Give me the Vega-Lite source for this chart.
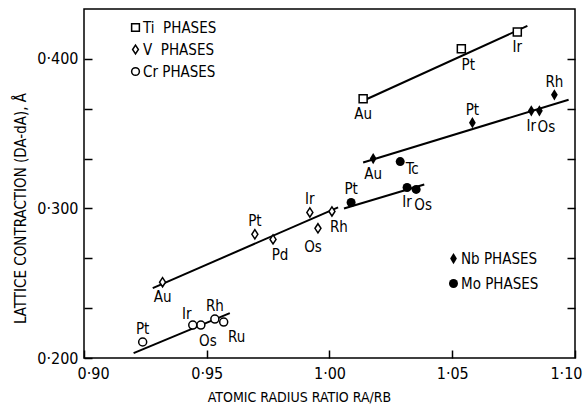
{
  "$schema": "https://vega.github.io/schema/vega-lite/v6.json",
  "width": 491,
  "height": 349,
  "autosize": "none",
  "padding": {"left": 84, "top": 9, "right": 11, "bottom": 54},
  "background": "white",
  "config": {
    "view": {"stroke": "black", "strokeWidth": 1.5},
    "font": "Liberation Sans Narrow, DejaVu Sans Condensed, sans-serif",
    "axis": {
      "grid": false, "domain": false, "tickColor": "black", "tickWidth": 1.5,
      "labelColor": "black", "titleColor": "black", "labelFontSize": 16,
      "titleFontSize": 15, "titleFontWeight": "normal",
      "labelFont": "Liberation Sans Narrow, DejaVu Sans Condensed, sans-serif",
      "titleFont": "Liberation Sans Narrow, DejaVu Sans Condensed, sans-serif"
    },
    "legend": {
      "padding": 0, "labelFontSize": 15, "labelColor": "black", "labelOffset": 0,
      "labelFont": "Liberation Sans Narrow, DejaVu Sans Condensed, sans-serif"
    },
    "text": {"fontSize": 15, "color": "black", "font": "Liberation Sans Narrow, DejaVu Sans Condensed, sans-serif", "baseline": "middle", "align": "center"}
  },
  "datasets": {
    "points": [
      {"phase": "Ti", "el": "Au", "x": 1.0137, "y": 0.3733, "pos": "b"},
      {"phase": "Ti", "el": "Pt", "x": 1.0537, "y": 0.4067, "pos": "br"},
      {"phase": "Ti", "el": "Ir", "x": 1.0765, "y": 0.418, "pos": "b"},
      {"phase": "Nb", "el": "Au", "x": 1.0178, "y": 0.3333, "pos": "b"},
      {"phase": "Nb", "el": "Pt", "x": 1.0582, "y": 0.3573, "pos": "a"},
      {"phase": "Nb", "el": "Ir", "x": 1.0822, "y": 0.3653, "pos": "b"},
      {"phase": "Nb", "el": "Os", "x": 1.0855, "y": 0.3653, "pos": "br"},
      {"phase": "Nb", "el": "Rh", "x": 1.0916, "y": 0.376, "pos": "a"},
      {"phase": "Mo", "el": "Tc", "x": 1.0288, "y": 0.3313, "pos": "r"},
      {"phase": "Mo", "el": "Pt", "x": 1.0088, "y": 0.304, "pos": "a"},
      {"phase": "Mo", "el": "Ir", "x": 1.0316, "y": 0.314, "pos": "b"},
      {"phase": "Mo", "el": "Os", "x": 1.0353, "y": 0.3127, "pos": "br"},
      {"phase": "V", "el": "Au", "x": 0.932, "y": 0.2507, "pos": "b"},
      {"phase": "V", "el": "Pt", "x": 0.9696, "y": 0.2827, "pos": "a"},
      {"phase": "V", "el": "Pd", "x": 0.977, "y": 0.2793, "pos": "br"},
      {"phase": "V", "el": "Ir", "x": 0.992, "y": 0.2973, "pos": "a"},
      {"phase": "V", "el": "Os", "x": 0.9953, "y": 0.2867, "pos": "bl"},
      {"phase": "V", "el": "Rh", "x": 1.001, "y": 0.298, "pos": "br"},
      {"phase": "Cr", "el": "Pt", "x": 0.9239, "y": 0.2107, "pos": "a"},
      {"phase": "Cr", "el": "Ir", "x": 0.9443, "y": 0.222, "pos": "al"},
      {"phase": "Cr", "el": "Os", "x": 0.9476, "y": 0.222, "pos": "br"},
      {"phase": "Cr", "el": "Rh", "x": 0.9533, "y": 0.226, "pos": "a"},
      {"phase": "Cr", "el": "Ru", "x": 0.9569, "y": 0.224, "pos": "rb"}
    ],
    "fits": [
      {"series": "Ti", "x": 1.0137, "y": 0.372},
      {"series": "Ti", "x": 1.0806, "y": 0.422},
      {"series": "Nb", "x": 1.0137, "y": 0.3307},
      {"series": "Nb", "x": 1.0974, "y": 0.3727},
      {"series": "Mo", "x": 1.0059, "y": 0.300},
      {"series": "Mo", "x": 1.0386, "y": 0.316},
      {"series": "V", "x": 0.928, "y": 0.2467},
      {"series": "V", "x": 1.0035, "y": 0.3007},
      {"series": "Cr", "x": 0.9202, "y": 0.2033},
      {"series": "Cr", "x": 0.9594, "y": 0.230}
    ]
  },
  "layer": [
    {
      "data": {"name": "fits"},
      "mark": {"type": "line", "color": "black", "strokeWidth": 2},
      "encoding": {
        "x": {"field": "x", "type": "quantitative", "scale": {"domain": [0.9, 1.1], "nice": false, "zero": false},
          "axis": {"orient": "bottom", "values": [0.9, 0.95, 1.0, 1.05, 1.1],
            "labelExpr": "replace(format(datum.value,'.2f'),'.','·')",
            "tickSize": -8, "labelPadding": 15, "labelFlush": true, "labelFlushOffset": 7,
            "title": "ATOMIC RADIUS RATIO  RA/RB", "titleX": 215, "titleY": 39,
            "titleBaseline": "middle", "titleAlign": "center", "titleFontSize": 14}},
        "y": {"field": "y", "type": "quantitative", "scale": {"domain": [0.2, 0.43333], "nice": false, "zero": false},
          "axis": {"orient": "left", "values": [0.2, 0.23333, 0.26667, 0.3, 0.33333, 0.36667, 0.4],
            "labelExpr": "abs(datum.value*10-round(datum.value*10))<0.001 ? replace(format(datum.value,'.3f'),'.','·') : ''",
            "tickSize": -8, "labelPadding": 14,
            "title": "LATTICE CONTRACTION (DA-dA), Å", "titleX": -64, "titleY": 199,
            "titleAngle": -90, "titleBaseline": "middle", "titleAlign": "center"}},
        "detail": {"field": "series"}
      }
    },
    {
      "data": {"name": "points"},
      "transform": [{"filter": {"field": "phase", "oneOf": ["Ti", "V", "Cr"]}}],
      "mark": {"type": "point", "filled": true, "color": "white", "opacity": 1, "size": 64},
      "encoding": {
        "x": {"field": "x", "type": "quantitative", "scale": {"domain": [0.9, 1.1], "nice": false, "zero": false}, "axis": null},
        "y": {"field": "y", "type": "quantitative", "scale": {"domain": [0.2, 0.43333], "nice": false, "zero": false}, "axis": null},
        "shape": {"field": "phase", "type": "nominal",
          "scale": {"domain": ["Ti", "V", "Cr"], "range": ["square", "M0,-1.15L0.75,0L0,1.15L-0.75,0Z", "circle"]},
          "legend": null}
      }
    },
    {
      "data": {"name": "points"},
      "transform": [{"filter": {"field": "phase", "oneOf": ["Ti", "V", "Cr"]}}],
      "mark": {"type": "point", "filled": false, "color": "black", "strokeWidth": 1.5, "opacity": 1, "size": 64},
      "encoding": {
        "x": {"field": "x", "type": "quantitative", "scale": {"domain": [0.9, 1.1], "nice": false, "zero": false}, "axis": null},
        "y": {"field": "y", "type": "quantitative", "scale": {"domain": [0.2, 0.43333], "nice": false, "zero": false},
          "axis": {"orient": "right", "labels": false, "title": null, "values": [0.23333, 0.26667, 0.3, 0.33333, 0.36667, 0.4], "tickSize": -8}},
        "shape": {"field": "phase", "type": "nominal",
          "scale": {"domain": ["Ti", "V", "Cr"], "range": ["square", "M0,-1.15L0.75,0L0,1.15L-0.75,0Z", "circle"]},
          "legend": {"orient": "none", "legendX": 44, "legendY": 11, "title": null, "symbolSize": 60, "rowPadding": 6,
            "symbolStrokeWidth": 1.5, "symbolStrokeColor": "black",
            "labelExpr": "datum.label == 'Cr' ? 'Cr PHASES' : datum.label + '\u00a0\u00a0PHASES'"}}
      }
    },
    {
      "data": {"name": "points"},
      "transform": [{"filter": {"field": "phase", "oneOf": ["Nb", "Mo"]}}],
      "mark": {"type": "point", "filled": true, "color": "black", "opacity": 1, "size": 81},
      "encoding": {
        "x": {"field": "x", "type": "quantitative", "scale": {"domain": [0.9, 1.1], "nice": false, "zero": false}, "axis": null},
        "y": {"field": "y", "type": "quantitative", "scale": {"domain": [0.2, 0.43333], "nice": false, "zero": false}, "axis": null},
        "shape": {"field": "phase", "type": "nominal",
          "scale": {"domain": ["Nb", "Mo"], "range": ["M0,-1.25L0.75,0L0,1.25L-0.75,0Z", "circle"]},
          "legend": {"orient": "none", "legendX": 362, "legendY": 242, "title": null, "symbolSize": 81, "rowPadding": 9,
            "symbolFillColor": "black", "symbolStrokeWidth": 0,
            "labelExpr": "datum.label + ' PHASES'"}}
      }
    },
    {
      "data": {"name": "points"},
      "transform": [{"filter": "datum.pos === 'b'"}],
      "mark": {"type": "text", "dy": 15},
      "encoding": {
        "x": {"field": "x", "type": "quantitative", "scale": {"domain": [0.9, 1.1], "nice": false, "zero": false}, "axis": null},
        "y": {"field": "y", "type": "quantitative", "scale": {"domain": [0.2, 0.43333], "nice": false, "zero": false}, "axis": null},
        "text": {"field": "el"}
      }
    },
    {
      "data": {"name": "points"},
      "transform": [{"filter": "datum.pos === 'a'"}],
      "mark": {"type": "text", "dy": -13},
      "encoding": {
        "x": {"field": "x", "type": "quantitative", "scale": {"domain": [0.9, 1.1], "nice": false, "zero": false}, "axis": null},
        "y": {"field": "y", "type": "quantitative", "scale": {"domain": [0.2, 0.43333], "nice": false, "zero": false}, "axis": null},
        "text": {"field": "el"}
      }
    },
    {
      "data": {"name": "points"},
      "transform": [{"filter": "datum.pos === 'br'"}],
      "mark": {"type": "text", "dx": 7, "dy": 16},
      "encoding": {
        "x": {"field": "x", "type": "quantitative", "scale": {"domain": [0.9, 1.1], "nice": false, "zero": false}, "axis": null},
        "y": {"field": "y", "type": "quantitative", "scale": {"domain": [0.2, 0.43333], "nice": false, "zero": false}, "axis": null},
        "text": {"field": "el"}
      }
    },
    {
      "data": {"name": "points"},
      "transform": [{"filter": "datum.pos === 'r'"}],
      "mark": {"type": "text", "dx": 12, "dy": 7},
      "encoding": {
        "x": {"field": "x", "type": "quantitative", "scale": {"domain": [0.9, 1.1], "nice": false, "zero": false}, "axis": null},
        "y": {"field": "y", "type": "quantitative", "scale": {"domain": [0.2, 0.43333], "nice": false, "zero": false}, "axis": null},
        "text": {"field": "el"}
      }
    },
    {
      "data": {"name": "points"},
      "transform": [{"filter": "datum.pos === 'rb'"}],
      "mark": {"type": "text", "dx": 13, "dy": 15},
      "encoding": {
        "x": {"field": "x", "type": "quantitative", "scale": {"domain": [0.9, 1.1], "nice": false, "zero": false}, "axis": null},
        "y": {"field": "y", "type": "quantitative", "scale": {"domain": [0.2, 0.43333], "nice": false, "zero": false}, "axis": null},
        "text": {"field": "el"}
      }
    },
    {
      "data": {"name": "points"},
      "transform": [{"filter": "datum.pos === 'al'"}],
      "mark": {"type": "text", "dx": -6, "dy": -11},
      "encoding": {
        "x": {"field": "x", "type": "quantitative", "scale": {"domain": [0.9, 1.1], "nice": false, "zero": false}, "axis": null},
        "y": {"field": "y", "type": "quantitative", "scale": {"domain": [0.2, 0.43333], "nice": false, "zero": false}, "axis": null},
        "text": {"field": "el"}
      }
    },
    {
      "data": {"name": "points"},
      "transform": [{"filter": "datum.pos === 'bl'"}],
      "mark": {"type": "text", "dx": -5, "dy": 19},
      "encoding": {
        "x": {"field": "x", "type": "quantitative", "scale": {"domain": [0.9, 1.1], "nice": false, "zero": false}, "axis": null},
        "y": {"field": "y", "type": "quantitative", "scale": {"domain": [0.2, 0.43333], "nice": false, "zero": false}, "axis": null},
        "text": {"field": "el"}
      }
    }
  ],
  "resolve": {
    "scale": {"shape": "independent"},
    "axis": {"x": "independent", "y": "independent"}
  }
}
